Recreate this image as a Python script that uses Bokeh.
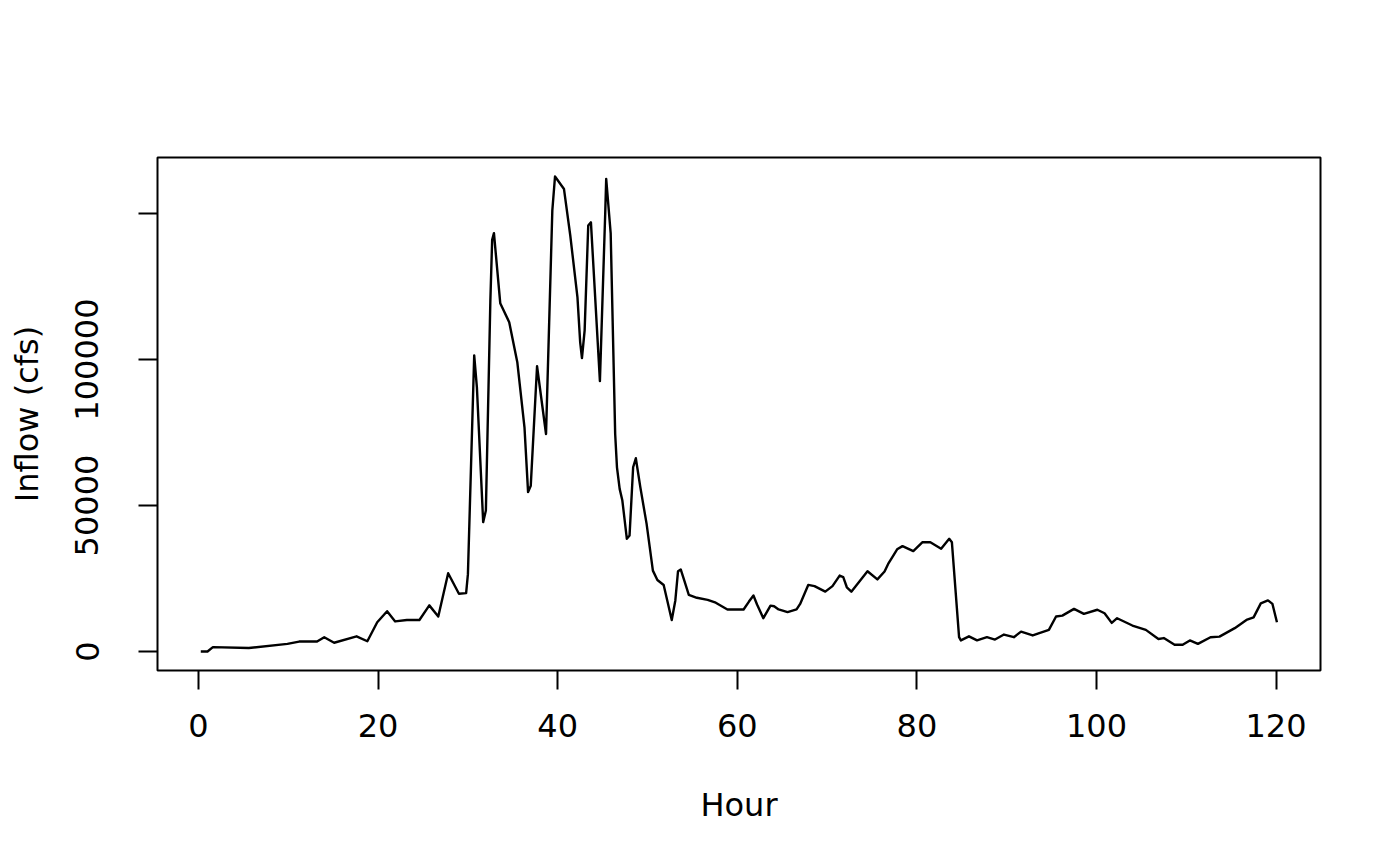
from bokeh.plotting import figure
from bokeh.models import Range1d, FixedTicker
from bokeh.embed import file_html
from bokeh.resources import INLINE

hours = [0.25, 1.0, 1.6, 5.6, 9.9, 11.2, 13.2, 14.0, 15.1, 17.6, 18.8, 19.9, 21.0, 21.9,
         23.2, 24.6, 25.7, 26.7, 27.8, 29.0, 29.8, 30.0, 30.7, 31.0, 31.7, 32.0, 32.5,
         32.7, 32.9, 33.6, 34.6, 35.5, 36.3, 36.7, 37.0, 37.7, 38.7, 39.4, 39.7, 40.7,
         41.4, 42.2, 42.5, 42.7, 43.0, 43.4, 43.7, 44.7, 45.3, 45.4, 45.9, 46.4, 46.6,
         46.9, 47.2, 47.7, 48.0, 48.4, 48.7, 49.2, 49.9, 50.6, 51.1, 51.8, 52.2, 52.7,
         53.1, 53.4, 53.7, 54.1, 54.6, 55.5, 56.7, 57.6, 58.9, 60.7, 61.3, 61.8, 62.2,
         62.9, 63.7, 64.1, 64.6, 65.6, 66.6, 67.0, 67.9, 68.6, 69.8, 70.6, 71.4, 71.8,
         72.2, 72.7, 74.5, 75.6, 76.4, 76.8, 77.2, 77.8, 78.4, 79.6, 80.6, 81.5, 82.7,
         83.6, 83.9, 84.7, 84.9, 85.8, 86.7, 87.8, 88.7, 89.7, 90.8, 91.6, 92.9, 94.7,
         95.5, 96.2, 97.5, 98.6, 100.1, 100.9, 101.7, 102.3, 104.0, 105.5, 106.9, 107.5,
         108.7, 109.6, 110.4, 111.3, 112.7, 113.7, 115.4, 116.7, 117.5, 118.3, 119.1,
         119.6, 120.1]
inflow = [0, 0, 1500, 1200, 2600, 3400, 3400, 4900, 3000, 5200, 3500, 10000, 13800, 10300,
          10800, 10800, 15800, 12000, 26800, 19800, 20000, 26500, 101400, 90500, 44300,
          48300, 120200, 141000, 143300, 119300, 112800, 99100, 76800, 54600, 56800, 97700,
          74500, 151000, 162700, 158400, 142500, 121300, 106000, 100500, 110000, 145900,
          147000, 92600, 151000, 161900, 143200, 74500, 63100, 55700, 51700, 38600, 39700,
          63100, 66200, 56300, 43700, 27700, 24500, 22800, 17500, 10800, 17500, 27500, 28100,
          24300, 19400, 18400, 17700, 16700, 14400, 14400, 17100, 19200, 16100, 11400, 15700,
          15500, 14400, 13500, 14400, 16300, 22800, 22400, 20500, 22400, 26000, 25500, 22000,
          20500, 27500, 24700, 27400, 30000, 32000, 35000, 36100, 34400, 37400, 37400, 35200,
          38600, 37400, 4900, 3800, 5200, 3800, 4900, 4100, 5800, 4900, 6800, 5500, 7400,
          12000, 12300, 14600, 12900, 14300, 13100, 9800, 11400, 8900, 7400, 4300, 4600,
          2300, 2300, 3800, 2600, 4900, 5100, 8000, 10800, 11700, 16500, 17500, 16300, 10000]

x_ticks = [0, 20, 40, 60, 80, 100, 120]
y_ticks = [0, 50000, 100000, 150000]
y_tick_labels = ["0", "50000", "100000", ""]

p = figure(width=1384, height=850, output_backend="svg", toolbar_location=None,
           x_range=Range1d(-4.57, 124.95), y_range=Range1d(-6508, 169208),
           min_border_left=157, min_border_right=64, min_border_top=157, min_border_bottom=180)

p.line(hours, inflow, line_color="black", line_width=2.4, line_join="round")

p.grid.visible = False
p.outline_line_color = "black"
p.outline_line_width = 2
p.outline_line_alpha = 1.0
p.background_fill_color = "white"
p.border_fill_color = "white"

font = "DejaVu Sans"
for ax in (p.xaxis[0], p.yaxis[0]):
    ax.axis_line_color = None
    ax.major_tick_out = 19
    ax.major_tick_in = 0
    ax.minor_tick_out = 0
    ax.minor_tick_in = 0
    ax.major_tick_line_width = 2
    ax.major_tick_line_color = "black"
    ax.major_label_text_font = font
    ax.major_label_text_font_size = "32px"
    ax.major_label_text_color = "black"
    ax.axis_label_text_font = font
    ax.axis_label_text_font_size = "32px"
    ax.axis_label_text_font_style = "normal"
    ax.axis_label_text_color = "black"

p.xaxis[0].ticker = FixedTicker(ticks=x_ticks)
p.yaxis[0].ticker = FixedTicker(ticks=y_ticks)
p.yaxis[0].major_label_overrides = dict(zip(y_ticks, y_tick_labels))
p.yaxis[0].major_label_orientation = "vertical"
p.xaxis[0].axis_label = "Hour"
p.yaxis[0].axis_label = "Inflow (cfs)"
p.xaxis[0].major_label_standoff = 24
p.yaxis[0].major_label_standoff = 40
p.xaxis[0].axis_label_standoff = 46
p.yaxis[0].axis_label_standoff = 27

open("out.html", "w").write(file_html(p, INLINE))
